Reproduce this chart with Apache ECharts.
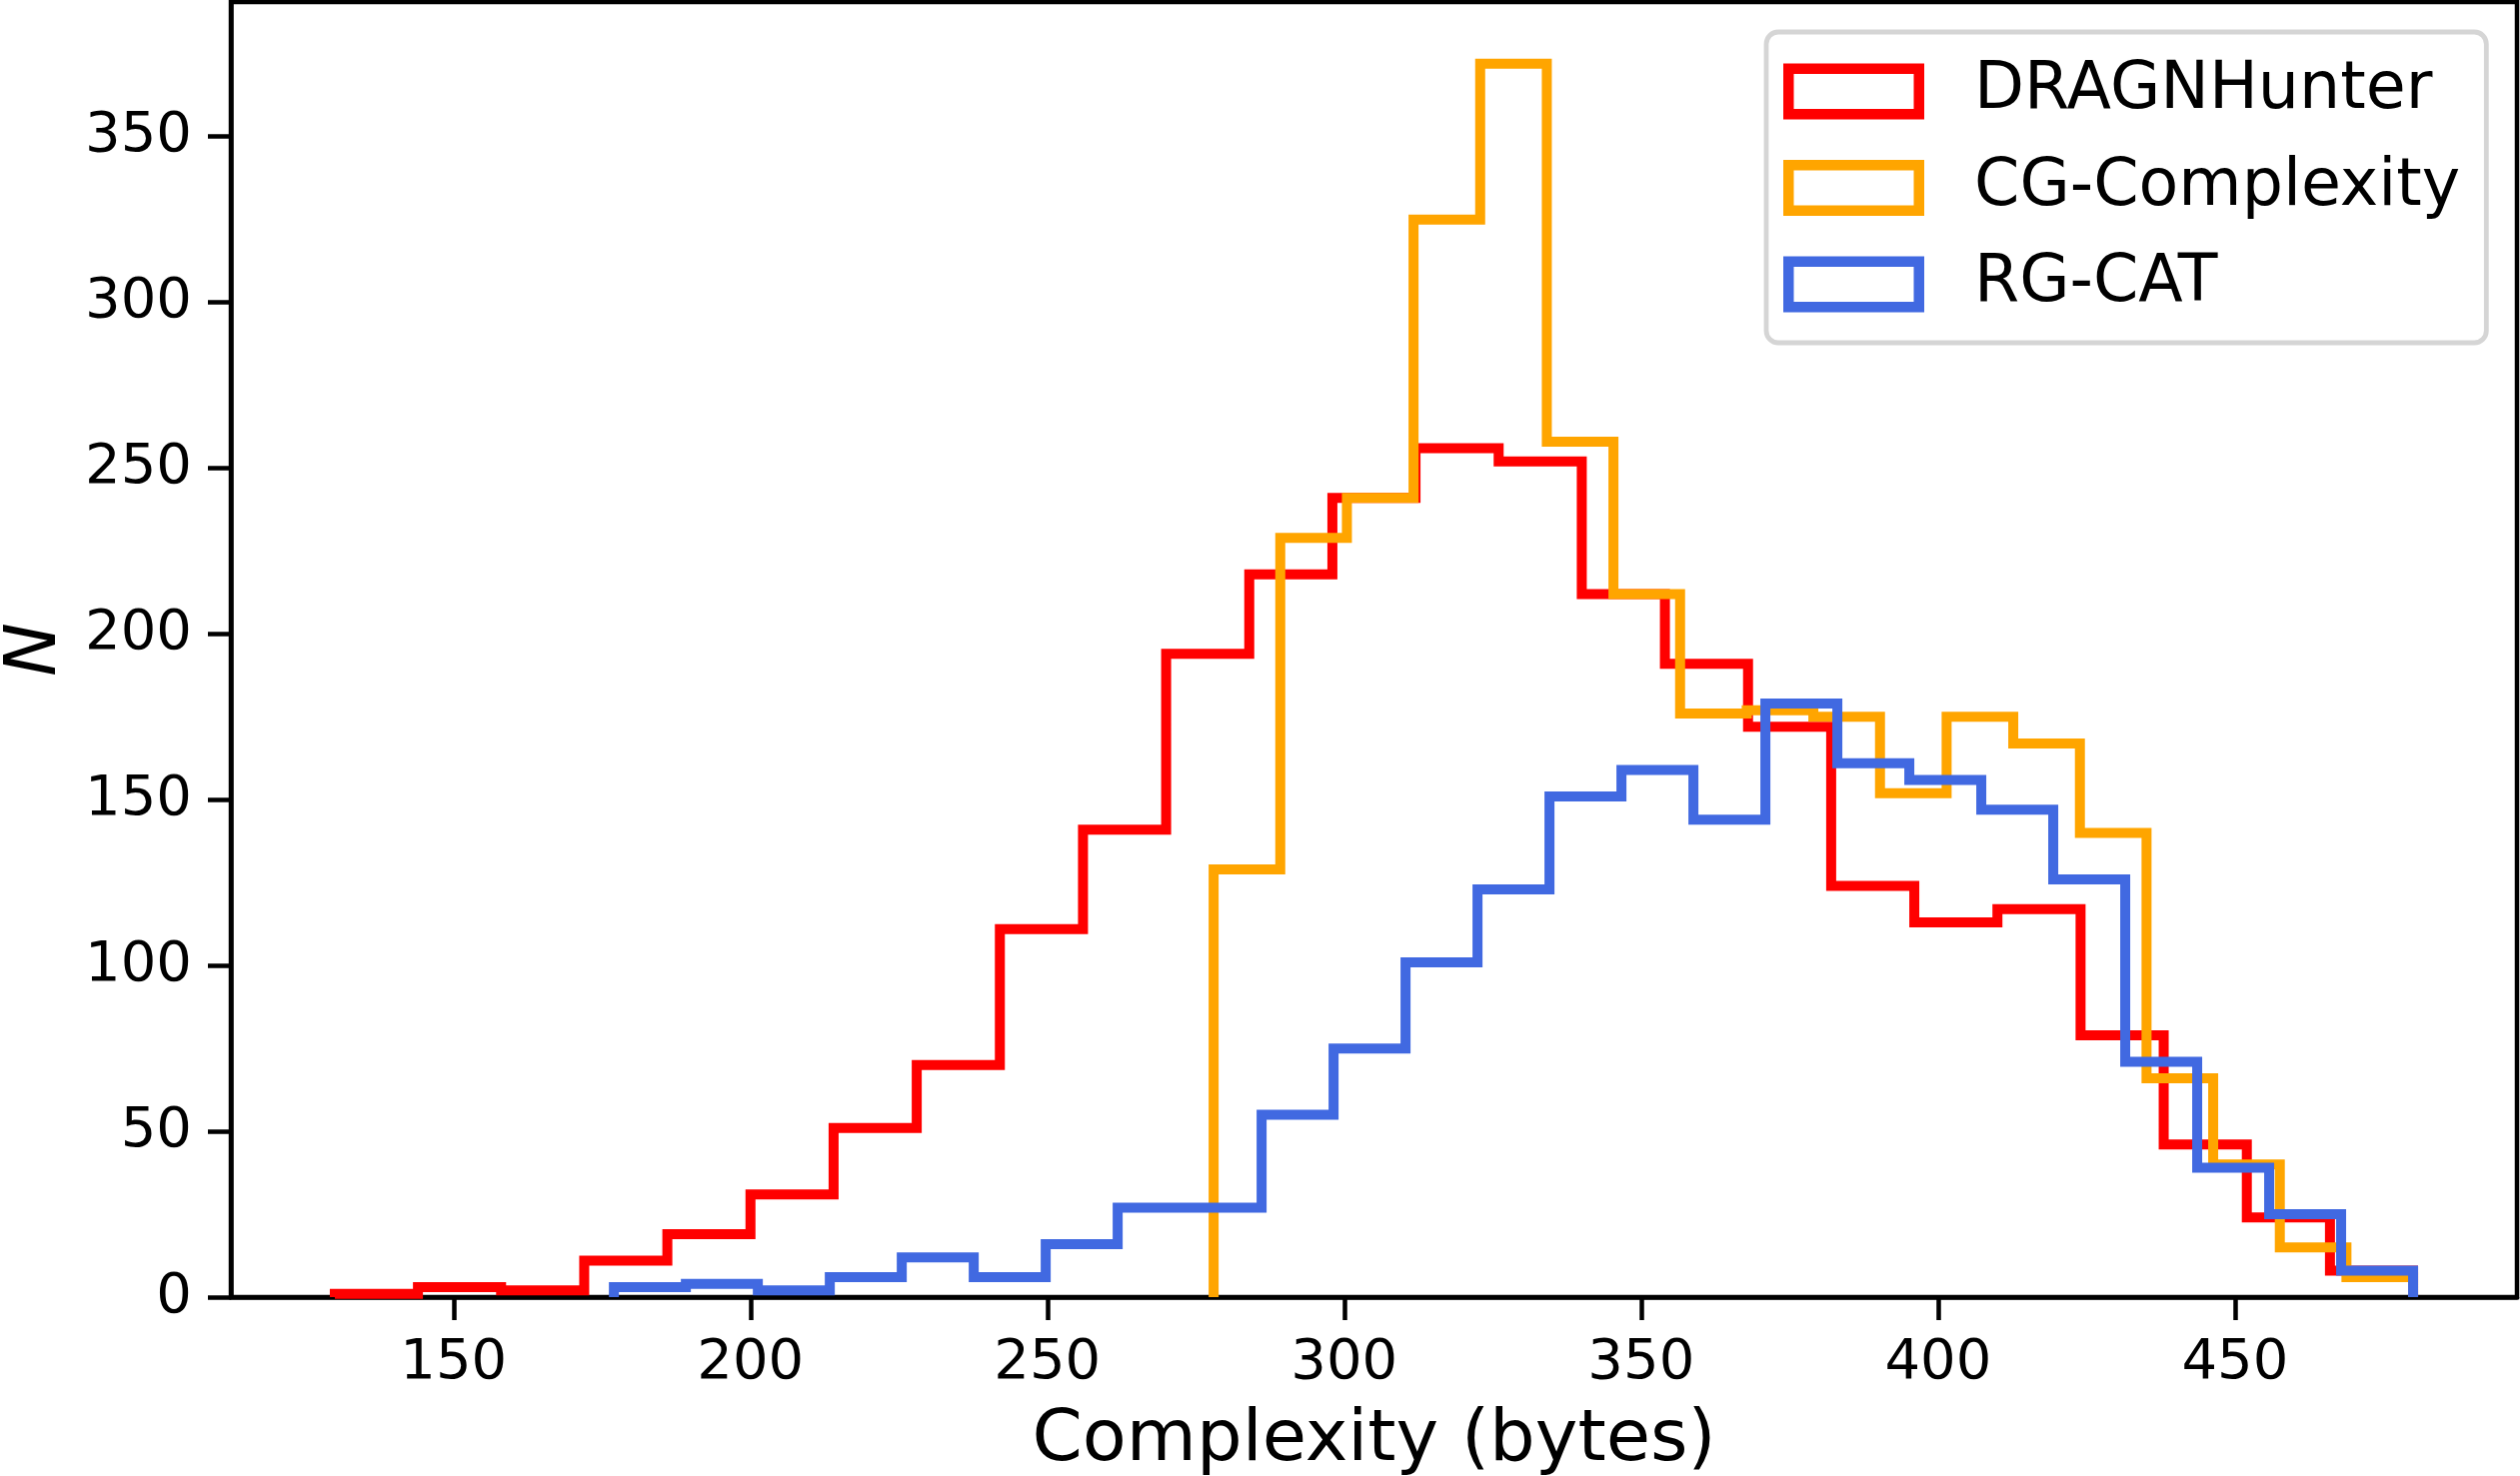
<!DOCTYPE html>
<html>
<head>
<meta charset="utf-8">
<script src="https://cdn.jsdelivr.net/npm/echarts@6/dist/echarts.min.js"></script>
<style>
  html, body { margin: 0; padding: 0; background: #fff; }
  #chart { width: 2521px; height: 1477px; }
</style>
</head>
<body>
<div id="chart"></div>
<script>
// counts per bin (equal-width bins between range[0] and range[1])
var dragnCounts = [1, 3, 2, 11, 19, 31, 51, 70, 111, 141, 194, 218, 241, 256, 252, 212, 191, 172, 124, 113, 117, 79, 46, 24, 8];
var dragnRange = [130, 480];

var cgCounts = [129, 229, 241, 325, 372, 258, 212, 176, 177, 175, 152, 175, 167, 140, 66, 40, 15, 6];
var cgRange = [278, 480];

var rgCounts = [3, 4, 2, 6, 12, 6, 16, 27, 27, 55, 75, 101, 123, 151, 159, 144, 179, 161, 156, 147, 126, 71, 39, 25, 8];
var rgRange = [177, 480];

var seriesNames = ['DRAGNHunter', 'CG-Complexity', 'RG-CAT'];
var xTicks = [150, 200, 250, 300, 350, 400, 450];
var yTicks = [0, 50, 100, 150, 200, 250, 300, 350];

var FONT = 'DejaVu Sans';

// outline of a histtype='step' histogram
function histSteps(range, counts) {
  var n = counts.length;
  var w = (range[1] - range[0]) / n;
  var pts = [[range[0], 0]];
  for (var i = 0; i < n; i++) {
    pts.push([range[0] + i * w, counts[i]]);
    pts.push([range[0] + (i + 1) * w, counts[i]]);
  }
  pts.push([range[1], 0]);
  return pts;
}

function stepSeries(name, range, counts, color) {
  return {
    name: name,
    type: 'line',
    data: histSteps(range, counts),
    showSymbol: false,
    symbol: 'none',
    color: color,
    lineStyle: { color: color, width: 10, join: 'miter', cap: 'butt' },
    silent: true
  };
}

// hollow rectangle for the legend patches
var hollowRect = 'path://M0,0L141,0L141,56L0,56Z M10.5,10.5L10.5,45.5L130.5,45.5L130.5,10.5Z';

var chart = echarts.init(document.getElementById('chart'), null, { renderer: 'canvas' });

var option = {
  animation: false,
  backgroundColor: '#fff',
  grid: {
    left: 231, right: 3, top: 2, bottom: 179,
    outerBoundsMode: 'none',
    containLabel: false,
    show: true,
    borderColor: '#000',
    borderWidth: 4.5,
    backgroundColor: 'transparent'
  },
  legend: {
    left: 1767,
    top: 32,
    orient: 'vertical',
    data: seriesNames,
    icon: hollowRect,
    itemWidth: 141,
    itemHeight: 56,
    itemGap: 31.5,
    padding: [27, 26, 26, 17],
    backgroundColor: 'rgba(255,255,255,0.8)',
    borderColor: '#d5d5d5',
    borderWidth: 4.8,
    borderRadius: 12,
    selectedMode: false,
    itemStyle: { borderWidth: 0 },
    textStyle: { fontFamily: FONT, fontSize: 65, color: '#000', padding: [0, 0, 0, 45] }
  },
  xAxis: {
    type: 'value',
    min: 112.5,
    max: 497.5,
    name: 'Complexity (bytes)',
    nameLocation: 'middle',
    nameGap: 108,
    nameTextStyle: { fontFamily: FONT, fontSize: 72, color: '#000' },
    axisLine: { show: true, lineStyle: { color: '#000', width: 4.5 } },
    axisTick: { show: true, length: 23, lineStyle: { color: '#000', width: 4.5 }, customValues: xTicks },
    axisLabel: { fontFamily: FONT, fontSize: 56, color: '#000', margin: 38, customValues: xTicks },
    splitLine: { show: false }
  },
  yAxis: {
    type: 'value',
    min: 0,
    max: 390.6,
    name: 'N',
    nameLocation: 'middle',
    nameGap: 159,
    nameTextStyle: { fontFamily: FONT, fontSize: 72, fontStyle: 'italic', color: '#000' },
    axisLine: { show: true, lineStyle: { color: '#000', width: 4.5 } },
    axisTick: { show: true, length: 23, lineStyle: { color: '#000', width: 4.5 }, customValues: yTicks },
    axisLabel: { fontFamily: FONT, fontSize: 56, color: '#000', margin: 39, padding: [5, 0, 0, 0], customValues: yTicks },
    splitLine: { show: false }
  },
  series: [
    stepSeries(seriesNames[0], dragnRange, dragnCounts, '#ff0000'),
    stepSeries(seriesNames[1], cgRange, cgCounts, '#ffa500'),
    stepSeries(seriesNames[2], rgRange, rgCounts, '#4169e1')
  ]
};

chart.setOption(option);
</script>
</body>
</html>
